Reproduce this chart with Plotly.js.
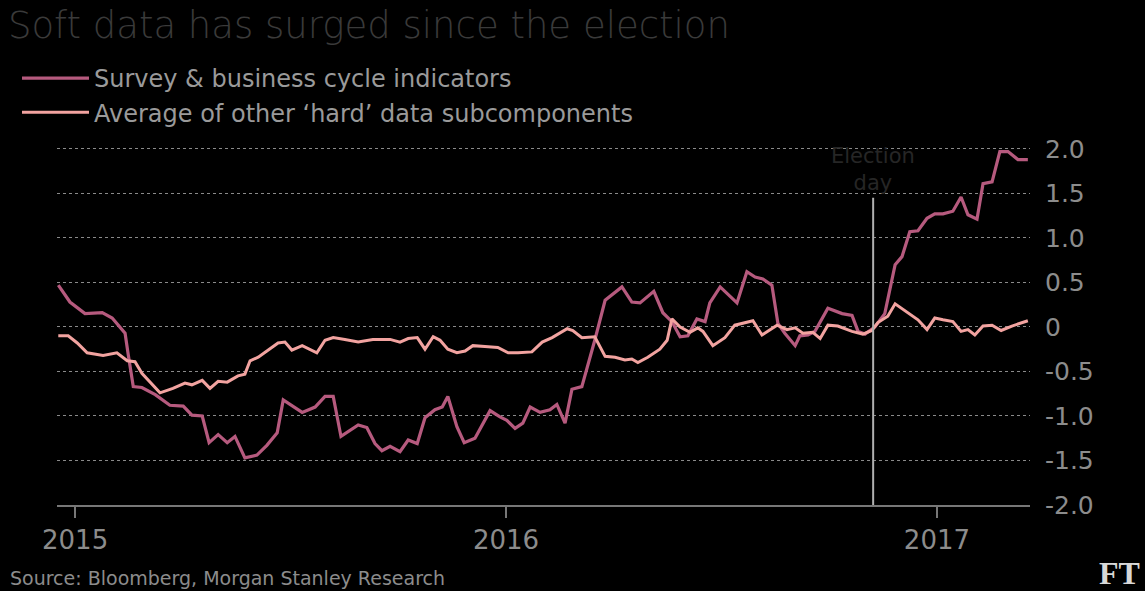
<!DOCTYPE html>
<html>
<head>
<meta charset="utf-8">
<script src="https://cdn.plot.ly/plotly-3.0.1.min.js"></script>
<style>
html,body{margin:0;padding:0;background:#000;}
#chart{width:1145px;height:591px;}
</style>
</head>
<body>
<div id="chart"></div>
<script>
// Decimal-year positions and values
const surveyYears = [2014.961,2014.988,2015.023,2015.063,2015.086,2015.116,2015.123,2015.135,2015.155,2015.186,
  2015.220,2015.251,2015.271,2015.295,2015.311,2015.332,2015.353,2015.371,2015.394,2015.422,
  2015.445,2015.469,2015.483,2015.527,2015.557,2015.580,2015.599,2015.617,2015.657,2015.677,
  2015.696,2015.712,2015.731,2015.754,2015.773,2015.794,2015.812,2015.835,2015.852,2015.865,
  2015.886,2015.903,2015.928,2015.963,2015.986,2016.002,2016.021,2016.039,2016.056,2016.079,
  2016.102,2016.118,2016.137,2016.153,2016.176,2016.206,2016.230,2016.269,2016.292,2016.311,
  2016.343,2016.364,2016.385,2016.404,2016.422,2016.443,2016.462,2016.473,2016.497,2016.536,
  2016.559,2016.578,2016.596,2016.617,2016.631,2016.647,2016.671,2016.682,2016.701,2016.717,
  2016.747,2016.780,2016.803,2016.817,2016.833,2016.856,2016.879,2016.891,2016.903,2016.919,
  2016.937,2016.956,2016.977,2016.995,2017.014,2017.037,2017.056,2017.072,2017.093,2017.107,
  2017.128,2017.146,2017.165,2017.188,2017.211];
const surveyValues = [0.47,0.28,0.15,0.16,0.10,-0.07,-0.30,-0.67,-0.68,-0.76,
  -0.88,-0.89,-0.99,-1.00,-1.30,-1.21,-1.30,-1.23,-1.47,-1.44,
  -1.33,-1.19,-0.82,-0.96,-0.90,-0.78,-0.78,-1.23,-1.10,-1.13,
  -1.31,-1.39,-1.34,-1.40,-1.27,-1.31,-1.02,-0.93,-0.90,-0.78,
  -1.12,-1.30,-1.25,-0.94,-1.01,-1.05,-1.14,-1.08,-0.90,-0.96,
  -0.93,-0.87,-1.08,-0.70,-0.67,-0.15,0.30,0.45,0.28,0.27,
  0.40,0.16,0.06,-0.11,-0.10,0.09,0.06,0.27,0.45,0.27,
  0.62,0.56,0.54,0.47,0.04,-0.07,-0.21,-0.10,-0.09,-0.05,
  0.21,0.15,0.13,-0.05,-0.08,0.00,0.15,0.41,0.70,0.79,
  1.07,1.08,1.22,1.27,1.27,1.30,1.46,1.26,1.21,1.61,
  1.63,1.97,1.97,1.88,1.88];

const hardYears = [2014.961,2014.984,2015.005,2015.028,2015.065,2015.097,2015.121,2015.139,2015.155,2015.179,
  2015.197,2015.227,2015.255,2015.271,2015.295,2015.313,2015.332,2015.353,2015.378,2015.394,
  2015.406,2015.425,2015.448,2015.471,2015.487,2015.503,2015.527,2015.561,2015.580,2015.599,
  2015.626,2015.657,2015.691,2015.731,2015.754,2015.773,2015.794,2015.812,2015.831,2015.847,
  2015.865,2015.886,2015.905,2015.923,2015.951,2015.981,2016.005,2016.028,2016.060,2016.084,
  2016.107,2016.142,2016.155,2016.176,2016.206,2016.230,2016.253,2016.276,2016.292,2016.306,
  2016.329,2016.357,2016.374,2016.385,2016.404,2016.427,2016.445,2016.457,2016.480,2016.508,
  2016.531,2016.555,2016.573,2016.594,2016.629,2016.652,2016.671,2016.689,2016.712,2016.729,
  2016.747,2016.770,2016.803,2016.828,2016.849,2016.863,2016.886,2016.903,2016.937,2016.956,
  2016.977,2016.995,2017.014,2017.037,2017.056,2017.072,2017.088,2017.107,2017.128,2017.149,
  2017.174,2017.211];
const hardValues = [-0.10,-0.10,-0.18,-0.29,-0.32,-0.29,-0.38,-0.39,-0.52,-0.65,
  -0.74,-0.69,-0.63,-0.65,-0.60,-0.69,-0.61,-0.62,-0.55,-0.53,
  -0.38,-0.34,-0.26,-0.18,-0.17,-0.26,-0.21,-0.29,-0.15,-0.12,
  -0.14,-0.17,-0.14,-0.14,-0.17,-0.13,-0.12,-0.25,-0.11,-0.15,
  -0.25,-0.29,-0.27,-0.21,-0.22,-0.23,-0.29,-0.29,-0.28,-0.17,
  -0.12,-0.02,-0.04,-0.12,-0.11,-0.33,-0.34,-0.37,-0.36,-0.40,
  -0.34,-0.25,-0.15,0.09,0.00,-0.06,-0.01,-0.05,-0.21,-0.12,
  0.02,0.05,0.07,-0.09,0.02,-0.03,-0.01,-0.07,-0.06,-0.13,
  0.02,0.01,-0.05,-0.08,-0.04,0.05,0.12,0.26,0.15,0.08,
  -0.03,0.10,0.08,0.06,-0.05,-0.03,-0.09,0.01,0.02,-0.04,
  0.01,0.07];

const seriesNames = ["Survey & business cycle indicators", "Average of other \u2018hard\u2019 data subcomponents"];
const xTickVals = [2015, 2016, 2017];
const xTickText = ["2015", "2016", "2017"];
const yTickVals = [-2, -1.5, -1, -0.5, 0, 0.5, 1, 1.5, 2];
const yTickText = ["-2.0", "-1.5", "-1.0", "-0.5", "0", "0.5", "1.0", "1.5", "2.0"];
const electionDay = 2016.852;
const electionLabel = "Election<br>day";
const titleText = "Soft data has surged since the election";
const sourceText = "Source: Bloomberg, Morgan Stanley Research";

const FONT = "'DejaVu Sans', 'Noto Sans', sans-serif";
const traces = [
  {x: surveyYears, y: surveyValues, name: seriesNames[0], type: "scatter", mode: "lines",
   line: {color: "#b65a7e", width: 3.2}},
  {x: hardYears, y: hardValues, name: seriesNames[1], type: "scatter", mode: "lines",
   line: {color: "#f2a3a0", width: 3}}
];

const layout = {
  width: 1145, height: 591,
  paper_bgcolor: "#000", plot_bgcolor: "#000",
  margin: {l: 57, r: 115, t: 140, b: 86, autoexpand: false},
  font: {family: FONT, color: "#8c8c8c"},
  title: {text: titleText, xref: "container", yref: "container", x: 8/1145, xanchor: "left",
          y: 1 - 25/591, yanchor: "middle", pad: {t: 0, l: 0},
          font: {family: FONT, size: 37, color: "#3a3a3a", weight: 200}},
  showlegend: true,
  legend: {xref: "container", yref: "container", x: 17/1145, y: 1 - 56/591, xanchor: "left", yanchor: "top",
           bgcolor: "rgba(0,0,0,0)", font: {family: FONT, size: 24, color: "#9a9a9a"},
           tracegroupgap: 0, itemwidth: 67},
  xaxis: {range: [2014.958, 2017.216], tickvals: xTickVals, ticktext: xTickText,
          showgrid: false, zeroline: false, showline: true, linecolor: "#777", linewidth: 2,
          ticks: "outside", ticklen: 11, tickwidth: 2, tickcolor: "#777",
          tickfont: {family: FONT, size: 26, color: "#8c8c8c"}},
  yaxis: {range: [-2.0, 2.1], side: "right", tickvals: yTickVals, ticktext: yTickText,
          showgrid: true, gridcolor: "#8a8a8a", gridwidth: 1, griddash: "dot",
          zeroline: false, showline: false, ticks: "", ticklabelstandoff: 14,
          tickfont: {family: FONT, size: 25, color: "#8c8c8c"}},
  shapes: [
    {type: "line", xref: "x", yref: "y", x0: electionDay, x1: electionDay, y0: -2.0, y1: 1.45,
     line: {color: "#b0b0b0", width: 2}}
  ],
  annotations: [
    {text: electionLabel, xref: "x", yref: "y", x: electionDay, y: 1.77, showarrow: false,
     xanchor: "center", yanchor: "middle", align: "center",
     font: {family: FONT, size: 21, color: "#262626"}},
    {text: sourceText, xref: "paper", yref: "paper", x: -49/973, y: -73/365, showarrow: false,
     xanchor: "left", yanchor: "middle", font: {family: FONT, size: 19, color: "#8c8c8c"}},
    {text: "<b>FT</b>", xref: "paper", yref: "paper", x: 1040/973, y: -68/365, showarrow: false,
     xanchor: "left", yanchor: "middle", font: {family: "'Liberation Serif', serif", size: 32, color: "#d8d8d8"}}
  ]
};

Plotly.newPlot("chart", traces, layout, {displayModeBar: false, staticPlot: true});
</script>
</body>
</html>
